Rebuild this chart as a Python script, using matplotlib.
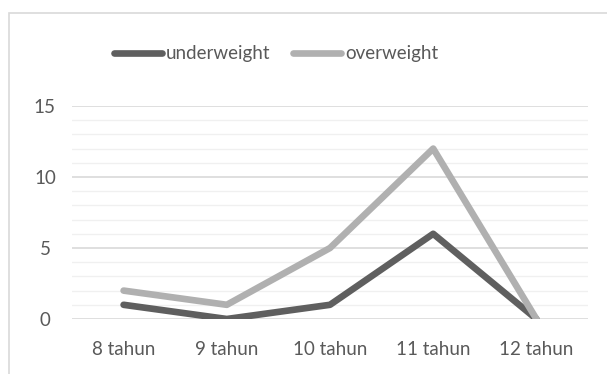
import matplotlib
matplotlib.use("Agg")
import matplotlib.pyplot as plt
from matplotlib.patches import Rectangle
from matplotlib.lines import Line2D

categories = ["8 tahun", "9 tahun", "10 tahun", "11 tahun", "12 tahun"]
underweight = [1, 0, 1, 6, 0]
overweight = [2, 1, 5, 12, 0]
y_ticks = [0, 5, 10, 15]

W, H = 607, 374
fig = plt.figure(figsize=(W / 100, H / 100), dpi=100)
plt.rcParams["font.family"] = ["Lato", "DejaVu Sans"]
text_color = "#595959"
fs = 13.5
lw = 4.8

# Chart frame (continues past the right and bottom edges)
fig.patches.append(Rectangle((9 / W, -0.1), 1.2, (H - 13) / H + 0.1,
                             transform=fig.transFigure, fill=False,
                             edgecolor="#d9d9d9", linewidth=1.2, zorder=0))

left, right, top, bottom = 72, 588, 106, 319
ax = fig.add_axes([left / W, 1 - bottom / H, (right - left) / W, (bottom - top) / H])
ax.set_facecolor("none")

x = list(range(len(categories)))
ax.set_xlim(-0.5, len(categories) - 0.5)
ax.set_ylim(0, 15)

for v in range(0, 16):
    major = v % 5 == 0
    ax.axhline(v, color="#d9d9d9" if major else "#f0f0f0",
               linewidth=1.2 if major else 1.0, zorder=1)

ax.plot(x, underweight, color="#5f5f5f", linewidth=lw,
        solid_joinstyle="round", solid_capstyle="round", zorder=3)
ax.plot(x, overweight, color="#b0b0b0", linewidth=lw,
        solid_joinstyle="round", solid_capstyle="round", zorder=3)

ax.set_xticks(x)
ax.set_xticklabels(categories)
ax.set_yticks(y_ticks)
ax.tick_params(axis="both", length=0, labelsize=fs, labelcolor=text_color)
ax.tick_params(axis="x", pad=15.5)
ax.tick_params(axis="y", pad=19.5)
for lbl in ax.get_yticklabels():
    lbl.set_horizontalalignment("center")
for s in ax.spines.values():
    s.set_visible(False)

# Legend drawn in figure pixel coordinates
def fx(px):
    return px / W

def fy(py):
    return 1 - py / H

leg_y = 53
for (x0, x1, tx, label, color) in [(114, 162, 166, "underweight", "#5f5f5f"),
                                   (293, 341, 345, "overweight", "#b0b0b0")]:
    fig.add_artist(Line2D([fx(x0), fx(x1)], [fy(leg_y), fy(leg_y)],
                          transform=fig.transFigure, color=color,
                          linewidth=lw, solid_capstyle="round"))
    fig.text(fx(tx), fy(leg_y), label, fontsize=fs, color=text_color,
             va="center", ha="left")

fig.savefig("out.png", dpi=100)
